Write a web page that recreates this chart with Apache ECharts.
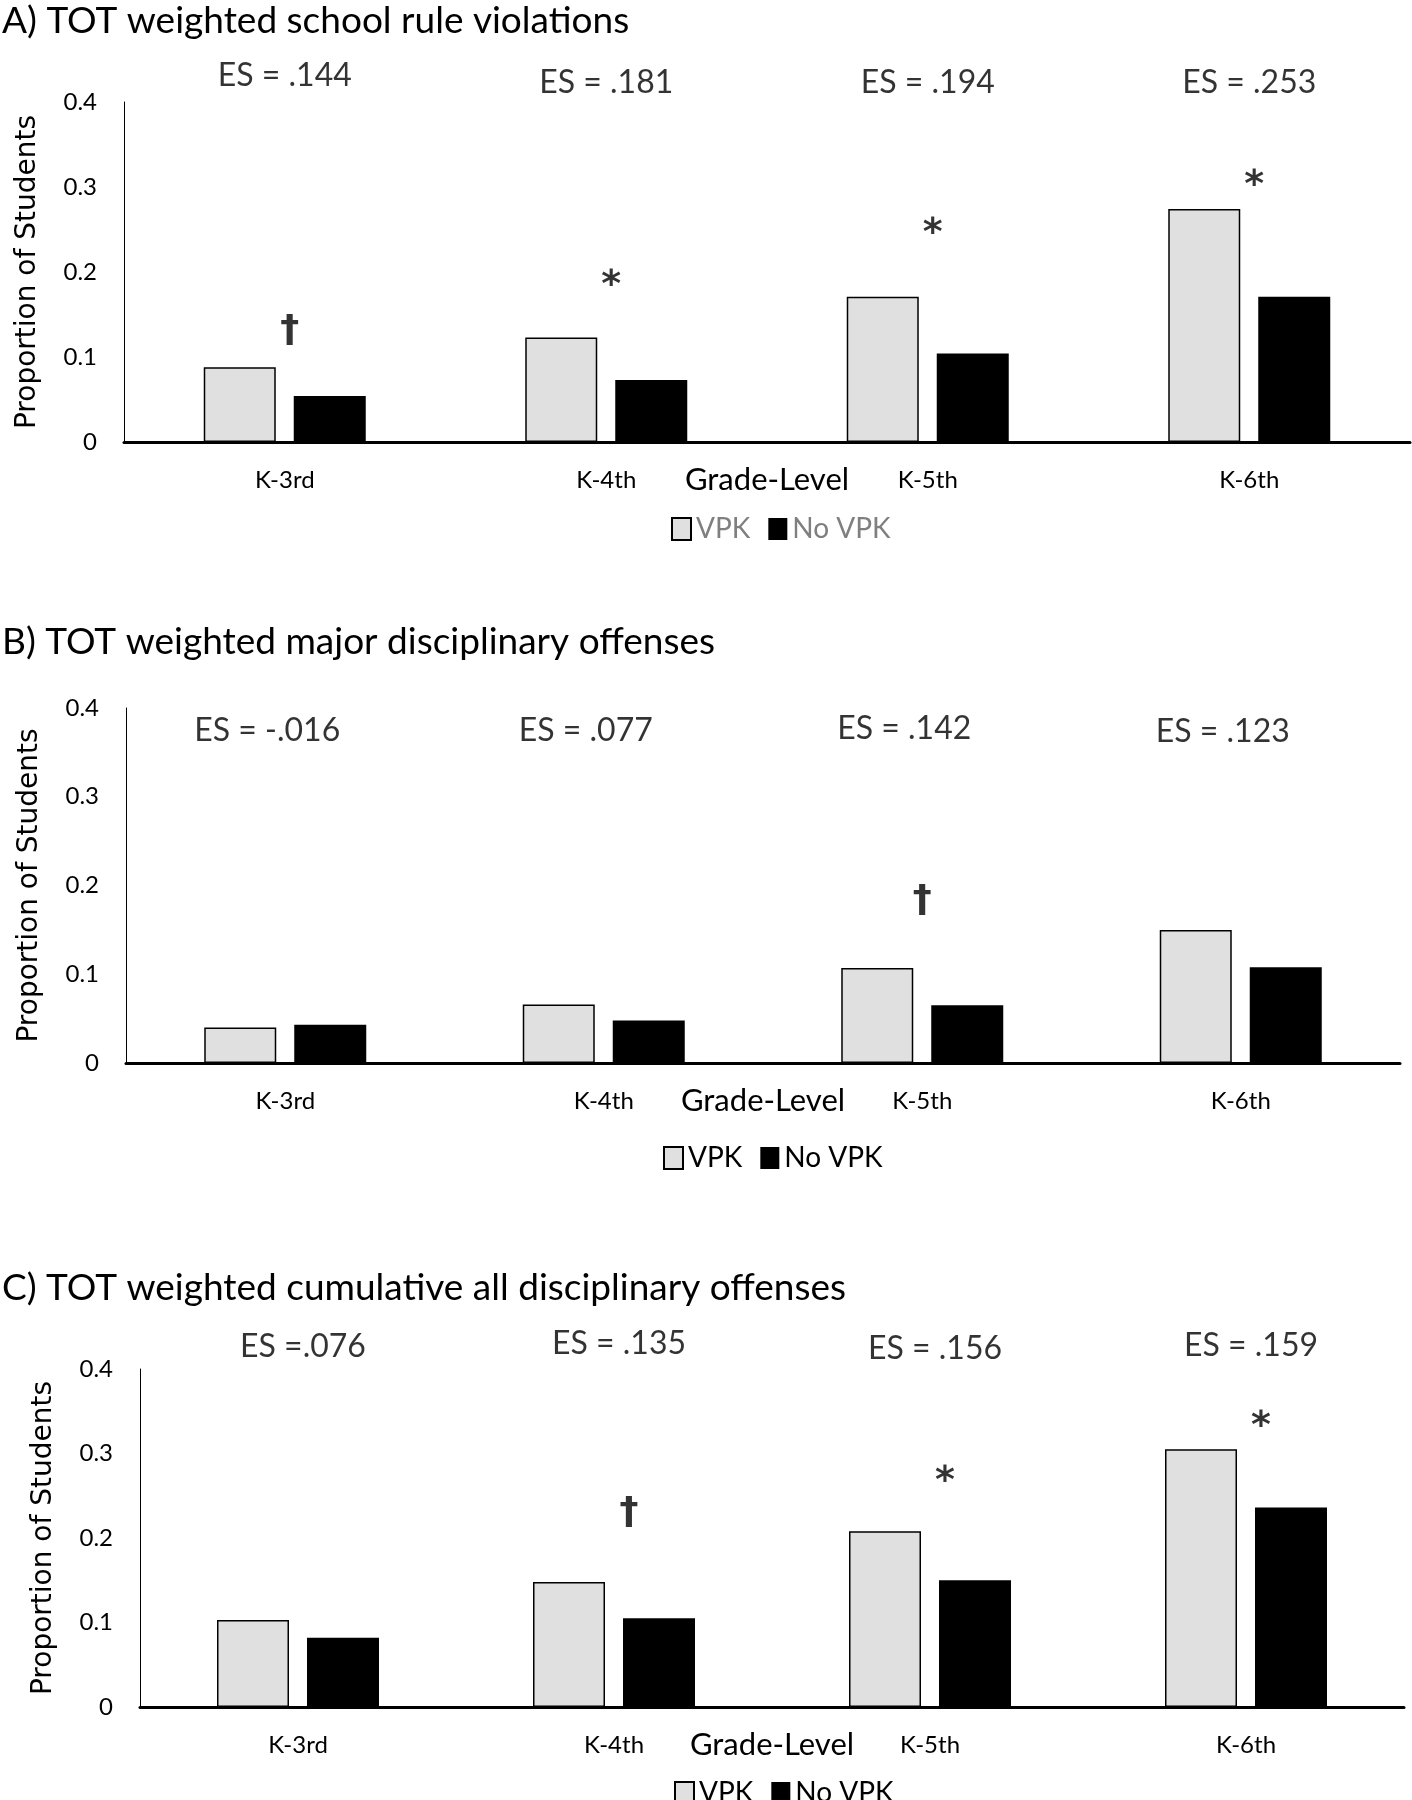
<!DOCTYPE html>
<html>
<head>
<meta charset="utf-8">
<script src="https://cdn.jsdelivr.net/npm/echarts@6/dist/echarts.min.js"></script>
<style>html,body{margin:0;padding:0;background:#fff}#c{width:1412px;height:1800px}</style>
</head>
<body>
<div id="c"></div>
<script>
// ---- data ----
const categories = ['K-3rd', 'K-4th', 'K-5th', 'K-6th'];
const yTicks = [0, 0.1, 0.2, 0.3, 0.4];

const titleA = 'A) TOT weighted school rule violations';
const titleB = 'B) TOT weighted major disciplinary offenses';
const titleC = 'C) TOT weighted cumulative all disciplinary offenses';

const vpkA = [0.088, 0.123, 0.171, 0.274];
const noVpkA = [0.054, 0.073, 0.104, 0.171];
const vpkB = [0.040, 0.066, 0.107, 0.150];
const noVpkB = [0.043, 0.048, 0.065, 0.108];
const vpkC = [0.103, 0.148, 0.208, 0.305];
const noVpkC = [0.082, 0.105, 0.150, 0.236];

const esA = ['ES = .144', 'ES = .181', 'ES = .194', 'ES = .253'];
const esAY = [0.431, 0.423, 0.423, 0.423];
const esB = ['ES = -.016', 'ES = .077', 'ES = .142', 'ES = .123'];
const esBY = [0.375, 0.375, 0.377, 0.373];
const esC = ['ES =.076', 'ES = .135', 'ES = .156', 'ES = .159'];
const esCY = [0.426, 0.430, 0.424, 0.428];

const sigA = ['†', '*', '*', '*'];
const sigAY = [0.131, 0.183, 0.245, 0.301];
const sigB = ['', '', '†', ''];
const sigBY = [null, null, 0.182, null];
const sigC = ['', '†', '*', '*'];
const sigCY = [null, 0.230, 0.266, 0.331];

// ---- chart ----
const FONT = 'Lato';
const VPK_COLOR = '#e0e0e0';
const NOVPK_COLOR = '#000000';

const panels = [
  { title: titleA, vpk: vpkA, no: noVpkA, es: esA, esY: esAY, sig: sigA, sigY: sigAY,
    grid: { left: 124, right: 2, top: 102, height: 340 }, titleTop: -2, legendTop: 510, legendLeft: 666,
    legendColor: '#7f7f7f', esOff: 0, sigOff: 5 },
  { title: titleB, vpk: vpkB, no: noVpkB, es: esB, esY: esBY, sig: sigB, sigY: sigBY,
    grid: { left: 126, right: 12, top: 708, height: 355 }, titleTop: 619, legendTop: 1139, legendLeft: 658,
    legendColor: '#000', esOff: -18, sigOff: 0 },
  { title: titleC, vpk: vpkC, no: noVpkC, es: esC, esY: esCY, sig: sigC, sigY: sigCY,
    grid: { left: 140, right: 8, top: 1369, height: 338 }, titleTop: 1265, legendTop: 1774, legendLeft: 669,
    legendColor: '#000', esOff: 5, sigOff: 15 }
];

const option = {
  animation: false,
  textStyle: { fontFamily: FONT },
  title: [], legend: [], grid: [], xAxis: [], yAxis: [], series: []
};

panels.forEach((p, i) => {
  option.title.push({ text: p.title, left: -3, top: p.titleTop,
    textStyle: { fontFamily: FONT, fontSize: 37, fontWeight: 'normal', color: '#000' } });
  option.legend.push({ data: ['VPK', 'No VPK'], left: p.legendLeft, top: p.legendTop,
    icon: 'rect', itemWidth: 19, itemHeight: 22, itemGap: 18, selectedMode: false,
    textStyle: { fontFamily: FONT, fontSize: 28, color: p.legendColor, padding: [0, 0, 0, 0] } });
  option.grid.push(Object.assign({ containLabel: false }, p.grid));
  option.xAxis.push({ type: 'category', gridIndex: i, data: categories,
    axisLine: { lineStyle: { color: '#000', width: 3 } }, axisTick: { show: false },
    axisLabel: { fontFamily: FONT, fontSize: 24, color: '#000', margin: 26 },
    name: 'Grade-Level', nameLocation: 'middle', nameGap: 22, nameMoveOverlap: false,
    nameTextStyle: { fontFamily: FONT, fontSize: 31, color: '#000' } });
  option.yAxis.push({ type: 'value', gridIndex: i, min: 0, max: 0.4, interval: 0.1,
    splitLine: { show: false }, axisTick: { show: false },
    axisLine: { show: true, lineStyle: { color: '#000', width: 1 } },
    axisLabel: { fontFamily: FONT, fontSize: 24, color: '#000', margin: 27,
      formatter: v => (yTicks.indexOf(Math.round(v * 10) / 10) >= 0 ? (v === 0 ? '0' : v.toFixed(1)) : '') },
    name: 'Proportion of Students', nameLocation: 'middle', nameGap: 82, nameMoveOverlap: false,
    nameTextStyle: { fontFamily: 'DejaVu Sans', fontSize: 28, color: '#000' } });
  option.series.push({ type: 'bar', name: 'VPK', xAxisIndex: i, yAxisIndex: i, data: p.vpk,
    barWidth: 72, barGap: '25%', itemStyle: { color: VPK_COLOR, borderColor: '#000', borderWidth: 1.5 } });
  option.series.push({ type: 'bar', name: 'No VPK', xAxisIndex: i, yAxisIndex: i, data: p.no,
    barWidth: 72, barGap: '25%', itemStyle: { color: NOVPK_COLOR } });
  option.series.push({ type: 'scatter', name: 'es' + i, xAxisIndex: i, yAxisIndex: i, clip: false,
    symbolSize: 1, itemStyle: { color: 'transparent' }, silent: true,
    data: p.es.map((t, k) => ({ value: [k, p.esY[k]], txt: t })),
    label: { show: true, position: 'inside', offset: [p.esOff, 0], formatter: d => d.data.txt,
      fontFamily: FONT, fontSize: 32, color: '#000' } });
  option.series.push({ type: 'scatter', name: 'sig' + i, xAxisIndex: i, yAxisIndex: i, clip: false,
    symbolSize: 1, itemStyle: { color: 'transparent' }, silent: true,
    data: p.sig.map((t, k) => ({ value: [k, p.sigY[k] == null ? '-' : p.sigY[k]], txt: t })).filter(d => d.txt),
    label: { show: true, position: 'inside', offset: [p.sigOff, 0], formatter: d => d.data.txt,
      rich: {}, fontFamily: 'DejaVu Sans', fontSize: 38, fontWeight: 'bold', color: '#000' } });
});

const chart = echarts.init(document.getElementById('c'), null, { renderer: 'canvas' });
chart.setOption(option);
</script>
</body>
</html>
